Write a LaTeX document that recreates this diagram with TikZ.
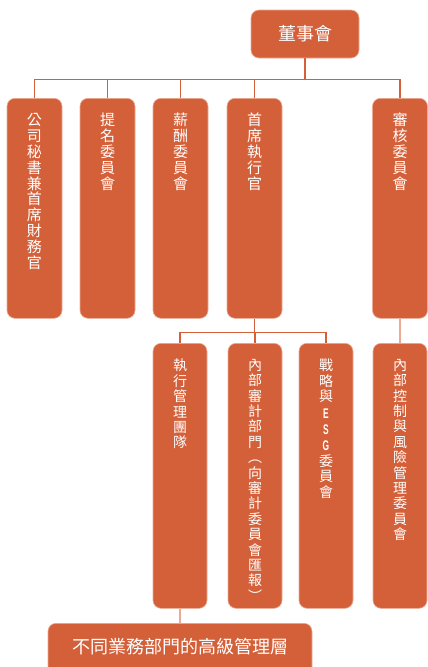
\documentclass[tikz,border=0pt]{standalone}
\usepackage{fontspec}
\newfontfamily\cjk{Noto Sans CJK TC}
\newfontfamily\latb{Liberation Sans}
\newcommand\esgl[1]{\scalebox{0.6}[1]{\latb\bfseries\fontsize{14}{14}\selectfont #1}}
\definecolor{boxfill}{HTML}{D4603A}
\definecolor{boxedge}{HTML}{EBAA93}
\begin{document}
\begin{tikzpicture}[x=1pt,y=-1pt,
  box/.style={draw=boxedge, line width=0.6pt, fill=boxfill, rounded corners=8pt, inner sep=0pt},
  vtxa/.style={text=white, align=center, inner sep=0pt, font=\cjk\fontsize{15}{15.9}\selectfont},
  vtxb/.style={text=white, align=center, inner sep=0pt, font=\cjk\fontsize{14}{15.4}\selectfont},
  htx/.style={text=white, inner sep=0pt, font=\cjk\fontsize{18}{20}\selectfont},
  conn/.style={draw=boxfill, line width=1.1pt},
  connl/.style={draw=boxedge, line width=1.1pt}]
\useasboundingbox (0,0) rectangle (428,667);
% top
\node[box, minimum width=108pt, minimum height=48pt] (board) at (305,34) {};
\node[htx] (boardt) at (305,34) {董事會};
% row 1
\node[box, anchor=north, minimum width=55pt, minimum height=220pt] (b1) at (34.5,98) {};
\node[box, anchor=north, minimum width=55pt, minimum height=220pt] (b2) at (107.5,98) {};
\node[box, anchor=north, minimum width=55pt, minimum height=220pt] (b3) at (180.5,98) {};
\node[box, anchor=north, minimum width=55pt, minimum height=220pt] (b4) at (254.5,98) {};
\node[box, anchor=north, minimum width=55pt, minimum height=220pt] (b5) at (400,98) {};
\node[vtxa, anchor=north] (b1t) at (34.5,113) {公\\司\\秘\\書\\兼\\首\\席\\財\\務\\官};
\node[vtxa, anchor=north] (b2t) at (107.5,113) {提\\名\\委\\員\\會};
\node[vtxa, anchor=north] (b3t) at (180.5,113) {薪\\酬\\委\\員\\會};
\node[vtxa, anchor=north] (b4t) at (254.5,113) {首\\席\\執\\行\\官};
\node[vtxa, anchor=north] (b5t) at (400,113) {審\\核\\委\\員\\會};
% row 2
\node[box, anchor=north, minimum width=54pt, minimum height=265pt] (r1) at (180,343) {};
\node[box, anchor=north, minimum width=54pt, minimum height=265pt] (r2) at (255,343) {};
\node[box, anchor=north, minimum width=54pt, minimum height=265pt] (r3) at (326,343) {};
\node[box, anchor=north, minimum width=54pt, minimum height=265pt] (r4) at (400,343) {};
\node[vtxb, anchor=north] (r1t) at (180,359) {執\\行\\管\\理\\團\\隊};
\node[vtxb, anchor=north] (r2t) at (255,359) {內\\部\\審\\計\\部\\門\\︵\\向\\審\\計\\委\\員\\會\\匯\\報\\︶};
\node[vtxb, anchor=north] (r3t) at (326,359) {戰\\略\\與\\[1pt]\esgl{E}\\[1pt]\esgl{S}\\[1pt]\esgl{G}\\委\\員\\會};
\node[vtxb, anchor=north] (r4t) at (400,359) {內\\部\\控\\制\\與\\風\\險\\管\\理\\委\\員\\會};
% bottom
\node[box, anchor=north, minimum width=264pt, minimum height=60pt] (mgmt) at (180,623) {};
\node[htx] (mgmtt) at (180,646.5) {不同業務部門的高級管理層};
% connectors
\draw[conn] (board.south) -- ++(0,21) -| (b1.north);
\draw[conn] (board.south) -- ++(0,21) -| (b2.north);
\draw[conn] (board.south) -- ++(0,21) -| (b3.north);
\draw[conn] (board.south) -- ++(0,21) -| (b4.north);
\draw[conn] (board.south) -- ++(0,21) -| (b5.north);
\draw[conn] (b4.south) -- ++(0,14) -| (r1.north);
\draw[conn] (b4.south) -- ++(0,14) -| (r2.north);
\draw[conn] (b4.south) -- ++(0,14) -| (r3.north);
\draw[connl] (b5.south) -- (r4.north);
\draw[connl] (r1.south) -- (mgmt.north);
\end{tikzpicture}
\end{document}
